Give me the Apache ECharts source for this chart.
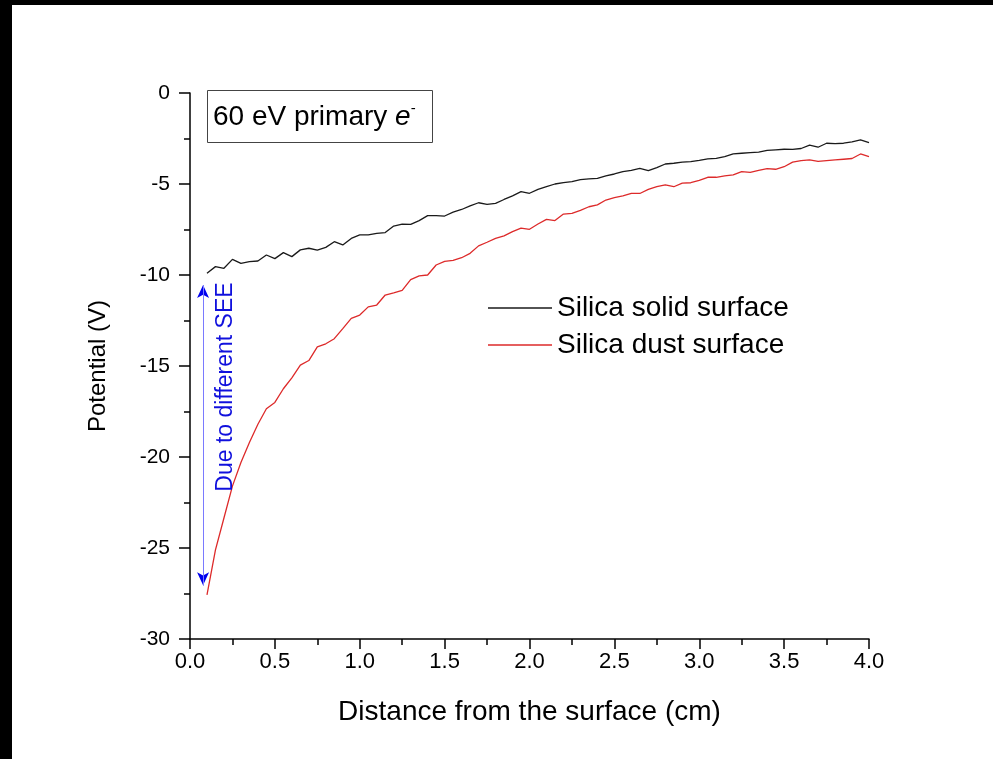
<!DOCTYPE html>
<html>
<head>
<meta charset="utf-8">
<script src="https://cdn.jsdelivr.net/npm/echarts@6/dist/echarts.min.js"></script>
<style>
html,body{margin:0;padding:0;background:#fff;}
#chart{width:993px;height:759px;}
</style>
</head>
<body>
<div id="chart"></div>
<script>
// ---- data ----
const distanceCm = [0.10,0.15,0.20,0.25,0.30,0.35,0.40,0.45,0.50,0.55,0.60,0.65,0.70,0.75,0.80,0.85,0.90,0.95,1.00,
  1.05,1.10,1.15,1.20,1.25,1.30,1.35,1.40,1.45,1.50,1.55,1.60,1.65,1.70,1.75,1.80,1.85,1.90,1.95,2.00,
  2.05,2.10,2.15,2.20,2.25,2.30,2.35,2.40,2.45,2.50,2.55,2.60,2.65,2.70,2.75,2.80,2.85,2.90,2.95,3.00,
  3.05,3.10,3.15,3.20,3.25,3.30,3.35,3.40,3.45,3.50,3.55,3.60,3.65,3.70,3.75,3.80,3.85,3.90,3.95,4.00];

const solidSurface = [-9.91,-9.54,-9.63,-9.14,-9.36,-9.27,-9.23,-8.90,-9.10,-8.77,-8.99,-8.62,-8.53,-8.63,-8.48,-8.17,-8.35,-7.99,-7.80,
  -7.80,-7.71,-7.67,-7.31,-7.20,-7.22,-7.01,-6.74,-6.74,-6.76,-6.55,-6.40,-6.20,-6.03,-6.12,-6.06,-5.85,-5.65,-5.42,-5.51,
  -5.30,-5.15,-5.00,-4.92,-4.87,-4.76,-4.72,-4.69,-4.55,-4.45,-4.32,-4.25,-4.14,-4.27,-4.10,-3.90,-3.86,-3.80,-3.77,-3.70,
  -3.62,-3.59,-3.50,-3.35,-3.31,-3.28,-3.25,-3.15,-3.12,-3.09,-3.10,-3.05,-2.86,-2.98,-2.76,-2.78,-2.76,-2.68,-2.58,-2.73];

const dustSurface = [-27.58,-25.10,-23.35,-21.60,-20.30,-19.20,-18.20,-17.35,-17.00,-16.25,-15.65,-14.95,-14.70,-13.95,-13.78,-13.50,-12.95,-12.38,-12.20,
  -11.75,-11.65,-11.10,-10.98,-10.85,-10.25,-10.05,-10.00,-9.45,-9.25,-9.20,-9.05,-8.81,-8.40,-8.20,-7.99,-7.85,-7.62,-7.43,-7.49,
  -7.20,-6.94,-7.01,-6.65,-6.61,-6.45,-6.25,-6.15,-5.88,-5.75,-5.65,-5.51,-5.52,-5.30,-5.15,-5.05,-5.15,-4.95,-4.93,-4.80,
  -4.63,-4.63,-4.55,-4.50,-4.32,-4.36,-4.25,-4.15,-4.19,-4.05,-3.80,-3.72,-3.68,-3.76,-3.72,-3.68,-3.64,-3.60,-3.35,-3.50];

const seriesNames = ['Silica solid surface', 'Silica dust surface'];
// arrow annotation (data coordinates)
const arrowX = 0.077;
const arrowTop = -10.55;
const arrowBottom = -27.05;
const arrowHeadLen = 0.3;

const xTicks = {min: 0, max: 4, interval: 0.5};
const yTicks = {min: -30, max: 0, interval: 5};

// ---- chart ----
const chart = echarts.init(document.getElementById('chart'), null, {renderer: 'canvas'});
const FONT = 'Liberation Sans, Arial, sans-serif';

const option = {
  backgroundColor: '#fff',
  animation: false,
  grid: {left: 190, right: 124, top: 93, bottom: 120, containLabel: false},
  legend: {
    orient: 'vertical',
    left: 483, top: 288,
    icon: 'rect',
    itemWidth: 64, itemHeight: 1.5,
    itemGap: 7,
    textStyle: {fontFamily: FONT, fontSize: 28, color: '#000', lineHeight: 30},
    data: seriesNames
  },
  xAxis: {
    type: 'value',
    min: xTicks.min, max: xTicks.max, interval: xTicks.interval,
    name: 'Distance from the surface (cm)',
    nameLocation: 'middle', nameGap: 59,
    nameTextStyle: {fontFamily: FONT, fontSize: 28, color: '#000'},
    axisLine: {show: true, onZero: false, lineStyle: {color: '#000', width: 1.5}},
    axisTick: {show: true, inside: false, length: 10, lineStyle: {color: '#000', width: 1.5}},
    minorTick: {show: true, splitNumber: 2, length: 6, lineStyle: {color: '#000', width: 1.5}},
    splitLine: {show: false},
    axisLabel: {fontFamily: FONT, fontSize: 22, color: '#000', margin: 12,
      formatter: v => v.toFixed(1)}
  },
  yAxis: {
    type: 'value',
    min: yTicks.min, max: yTicks.max, interval: yTicks.interval,
    name: 'Potential (V)',
    nameLocation: 'middle', nameGap: 80,
    nameTextStyle: {fontFamily: FONT, fontSize: 24, color: '#000'},
    axisLine: {show: true, onZero: false, lineStyle: {color: '#000', width: 1.5}},
    axisTick: {show: true, inside: false, length: 11, lineStyle: {color: '#000', width: 1.5}},
    minorTick: {show: true, splitNumber: 2, length: 6, lineStyle: {color: '#000', width: 1.5}},
    splitLine: {show: false},
    axisLabel: {fontFamily: FONT, fontSize: 21, color: '#000', margin: 20}
  },
  series: [
    {
      name: seriesNames[0], type: 'line', symbol: 'none', smooth: false,
      color: '#1a1a1a',
      lineStyle: {color: '#1a1a1a', width: 1.3},
      data: distanceCm.map((x, i) => [x, solidSurface[i]]),
      markLine: {
        silent: true,
        symbol: ['none', 'arrow'],
        symbolSize: [9, 13],
        label: {show: false},
        lineStyle: {color: '#0000ee', width: 1, type: 'solid'},
        emphasis: {disabled: true},
        data: [
          [{coord: [arrowX, arrowTop - arrowHeadLen]}, {coord: [arrowX, arrowTop]}],
          [{coord: [arrowX, arrowBottom + arrowHeadLen]}, {coord: [arrowX, arrowBottom]}]
        ]
      }
    },
    {
      name: seriesNames[1], type: 'line', symbol: 'none', smooth: false,
      color: '#dd2a2a',
      lineStyle: {color: '#dd2a2a', width: 1.3},
      data: distanceCm.map((x, i) => [x, dustSurface[i]]),
      markLine: {
        silent: true,
        symbol: ['none', 'none'],
        label: {show: false},
        lineStyle: {color: '#7a7aff', width: 1, type: 'solid'},
        emphasis: {disabled: true},
        data: [[{coord: [arrowX, arrowTop]}, {coord: [arrowX, arrowBottom]}]]
      }
    }
  ],
  graphic: [
    {type: 'rect', z: 100, shape: {x: 0, y: 0, width: 993, height: 5}, style: {fill: '#000'}},
    {type: 'rect', z: 100, shape: {x: 0, y: 0, width: 12, height: 759}, style: {fill: '#000'}},
    {type: 'rect', z: 100, shape: {x: 207.5, y: 90.5, width: 225, height: 52},
      style: {fill: '#fff', stroke: '#444', lineWidth: 1}},
    {type: 'text', z: 101, x: 213, y: 117,
      style: {
        text: '{a|60 eV primary }{b|e}{c|-}',
        verticalAlign: 'middle',
        rich: {
          a: {fontFamily: FONT, fontSize: 28, color: '#000', lineHeight: 32},
          b: {fontFamily: FONT, fontSize: 28, fontStyle: 'italic', color: '#000', lineHeight: 32},
          c: {fontFamily: FONT, fontSize: 15, color: '#000', lineHeight: 15, verticalAlign: 'top'}
        }
      }},
    {type: 'text', z: 101, x: 226, y: 387, rotation: Math.PI / 2,
      style: {text: 'Due to different SEE', fontFamily: FONT, fontSize: 23, fill: '#1010dd',
        align: 'center', verticalAlign: 'middle'}}
  ]
};
chart.setOption(option);
</script>
</body>
</html>
